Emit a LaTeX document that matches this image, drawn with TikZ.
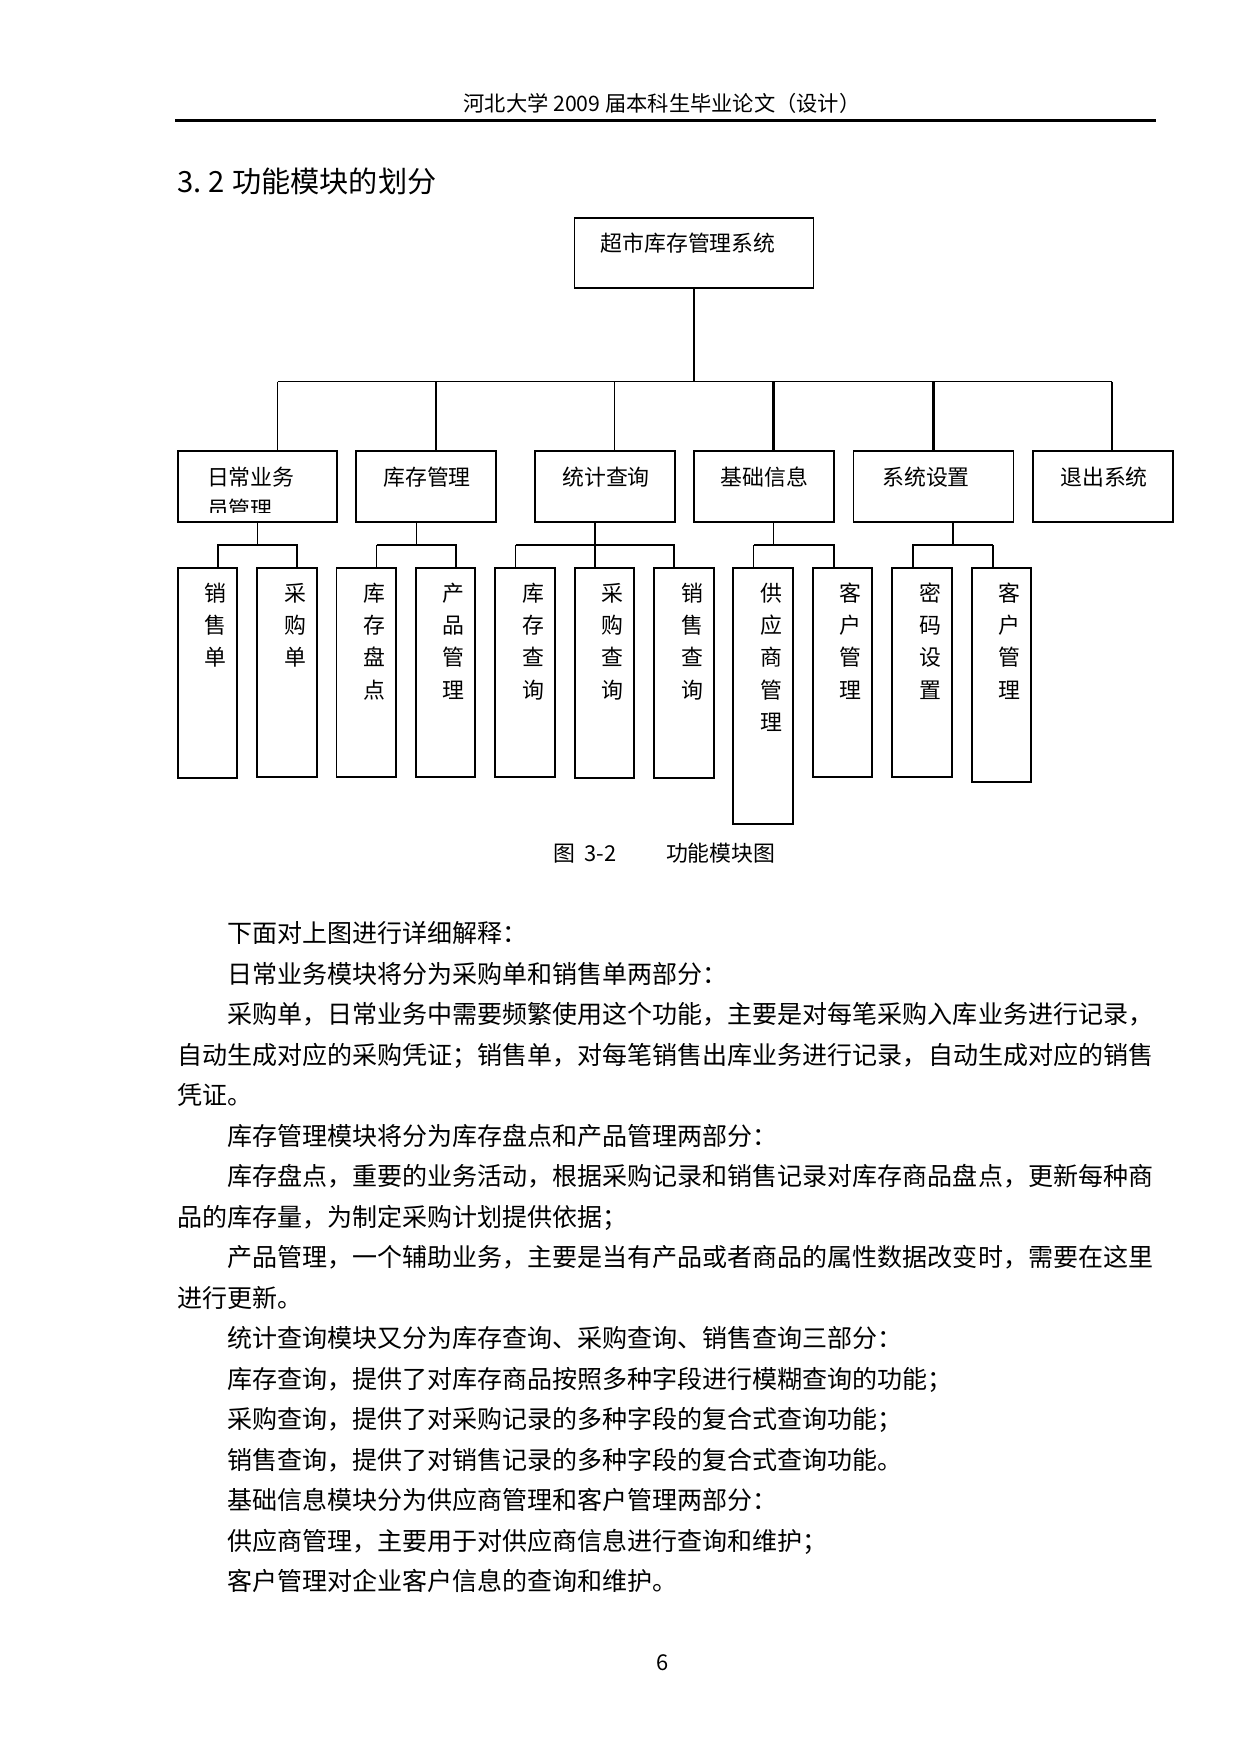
\documentclass[tikz,border=0pt]{standalone}
\usepackage{fontspec}
\setmainfont{Noto Sans CJK SC}
\def\pxu{0.47968pt}
\tikzset{
  t105/.style={inner sep=0pt, outer sep=0pt, font=\fontsize{10.5pt}{12pt}\selectfont, text height=9.24pt, text depth=1.26pt},
  thdr/.style={inner sep=0pt, outer sep=0pt, font=\fontsize{10.2pt}{12pt}\selectfont, text height=8.98pt, text depth=1.22pt},
  t12/.style={inner sep=0pt, outer sep=0pt, font=\fontsize{12pt}{14pt}\selectfont, text height=10.56pt, text depth=1.44pt},
  t14/.style={inner sep=0pt, outer sep=0pt, font=\fontsize{14pt}{17pt}\selectfont, text height=12.32pt, text depth=1.68pt},
  bodyline/.style={t12, anchor=west},
  boxshape/.style={draw, rectangle, inner sep=0pt, outer sep=0pt},
  lnthin/.style={line width=0.55pt},
  lnthick/.style={line width=1pt},
}
\newcommand\lbox[4]{\node[boxshape,#4,minimum width={59.6*\pxu},minimum height={(#3-568)*\pxu}] (#1) at ({#2+29.8},{(568+#3)/2}) {};}
\newcommand\vcol[3]{\foreach \c [count=\k from 0] in {#3} {\node[t105] (#1c\k) at ({#2+38},{592.7+\k*32.4}) {\c};}}
\begin{document}
\begin{tikzpicture}[x=\pxu,y=-\pxu]
\fill[white] (0,0) rectangle (1241,1755);
\useasboundingbox (0,0) rectangle (1241,1755);

% header
\node[thdr] (hdr) at (662,103) {河北大学 2009 届本科生毕业论文（设计）};
\coordinate (hl) at (175,120.5);
\coordinate (hr) at (1156,120.5);
\draw[line width=1.4pt] (hl) -- (hr);

% heading
\node[t14, anchor=west] (head) at (177,181) {3.\hspace{0.25em}2\hspace{0.25em}功能模块的划分};

% root
\node[boxshape,lnthin,minimum width={239*\pxu},minimum height={70*\pxu}] (root) at (694,253) {};
\node[t105] (roott) at (688,243.5) {超市库存管理系统};

% level 2 boxes
\node[boxshape,lnthick,minimum width={159.4*\pxu},minimum height={71*\pxu}] (L1) at (257.3,486.5) {};
\node[boxshape,lnthin,minimum width={140*\pxu},minimum height={71*\pxu}] (L2) at (426,486.5) {};
\node[boxshape,lnthick,minimum width={140*\pxu},minimum height={71*\pxu}] (L3) at (605,486.5) {};
\node[boxshape,lnthick,minimum width={140*\pxu},minimum height={71*\pxu}] (L4) at (764,486.5) {};
\node[boxshape,lnthin,minimum width={160*\pxu},minimum height={71*\pxu}] (L5) at (933.5,486.5) {};
\node[boxshape,lnthick,minimum width={140*\pxu},minimum height={71*\pxu}] (L6) at (1103,486.5) {};

\node[t105, anchor=west] (L1t) at (207,477) {日常业务};
\begin{scope}
  \clip (177,451) rectangle (337,512.5);
  \node[t105, anchor=west] (L1t2) at (207,509.5) {员管理};
\end{scope}
\node[t105] (L2t) at (427,477) {库存管理};
\node[t105] (L3t) at (606,477) {统计查询};
\node[t105] (L4t) at (764.5,477) {基础信息};
\node[t105] (L5t) at (926,477) {系统设置};
\node[t105] (L6t) at (1104,477) {退出系统};

% main bus
\coordinate (busL) at (277.5,381.5);
\coordinate (busR) at (1112,381.5);
\coordinate (d2) at (436,381.5);
\coordinate (d3) at (614.5,381.5);
\coordinate (d4) at (773.5,381.5);
\coordinate (d5) at (933.5,381.5);
\draw[lnthick] (root.south) -- (root.south |- busL);
\draw[lnthin] (busL) -- (busR);
\draw[lnthin] (busL) -- (busL |- L1.north);
\draw[lnthick] (d2) -- (d2 |- L2.north);
\draw[lnthin] (d3) -- (d3 |- L3.north);
\draw[lnthick] (d4) -- (d4 |- L4.north);
\draw[lnthick] (d5) -- (d5 |- L5.north);
\draw[lnthin] (busR) -- (busR |- L6.north);

% level 3 boxes
\lbox{B0}{177.6}{777.7}{lnthick}
\lbox{B1}{257.0}{777}{lnthick}
\lbox{B2}{336.4}{777}{lnthin}
\lbox{B3}{415.8}{777}{lnthick}
\lbox{B4}{495.2}{776.7}{lnthick}
\lbox{B5}{574.6}{777.7}{lnthick}
\lbox{B6}{654.0}{777.7}{lnthick}
\lbox{B7}{733.4}{824}{lnthick}
\lbox{B8}{812.8}{777}{lnthick}
\lbox{B9}{892.2}{777}{lnthick}
\lbox{B10}{971.6}{782}{lnthick}

\vcol{B0}{177.6}{销,售,单}
\vcol{B1}{257.0}{采,购,单}
\vcol{B2}{336.4}{库,存,盘,点}
\vcol{B3}{415.8}{产,品,管,理}
\vcol{B4}{495.2}{库,存,查,询}
\vcol{B5}{574.6}{采,购,查,询}
\vcol{B6}{654.0}{销,售,查,询}
\vcol{B7}{733.4}{供,应,商,管,理}
\vcol{B8}{812.8}{客,户,管,理}
\vcol{B9}{892.2}{密,码,设,置}
\vcol{B10}{971.6}{客,户,管,理}

% group 1: 日常业务
\coordinate (s1) at (257.5,545);
\coordinate (s1a) at (217.7,545);
\coordinate (s1b) at (297,545);
\draw[lnthin] (s1 |- L1.south) -- (s1);
\draw[lnthick] (s1a |- B0.north) -- (s1a) -- (s1b) -- (s1b |- B1.north);

% group 2: 库存管理
\coordinate (s2) at (416.5,545);
\coordinate (s2a) at (376.6,545);
\coordinate (s2b) at (456,545);
\draw[lnthin] (s2 |- L2.south) -- (s2);
\draw[lnthick] (s2a) -- (s2b) -- (s2b |- B3.north);
\draw[lnthin] (s2a) -- (s2a |- B2.north);

% group 3: 统计查询
\coordinate (s3) at (594.7,545);
\coordinate (s3a) at (515.5,545);
\coordinate (s3c) at (674.3,545);
\draw[lnthick] (s3 |- L3.south) -- (s3 |- B5.north);
\draw[lnthick] (s3a) -- (s3c) -- (s3c |- B6.north);
\draw[lnthin] (s3a) -- (s3a |- B4.north);

% group 4: 基础信息
\coordinate (s4) at (773.6,545);
\coordinate (s4a) at (753.8,545);
\coordinate (s4b) at (834.2,545);
\draw[lnthin] (s4 |- L4.south) -- (s4);
\draw[lnthick] (s4a) -- (s4b) -- (s4b |- B8.north);
\draw[lnthin] (s4a) -- (s4a |- B7.north);

% group 5: 系统设置
\coordinate (s5) at (953,545);
\coordinate (s5a) at (913.4,545);
\coordinate (s5b) at (993,545);
\draw[lnthick] (s5 |- L5.south) -- (s5);
\draw[lnthick] (s5a |- B9.north) -- (s5a) -- (s5b);
\draw[lnthin] (s5b) -- (s5b |- B10.north);

% caption
\node[t105, anchor=west] (cap1) at (553,853) {图\hspace{0.45em}3-2};
\node[t105, anchor=west] (cap2) at (666,853) {功能模块图};

% body text
\node[bodyline] (p1) at (227.5,933) {下面对上图进行详细解释：};
\node[bodyline] (p2) at (227.5,973.5) {日常业务模块将分为采购单和销售单两部分：};
\node[bodyline] (p3) at (227.5,1014) {采购单，日常业务中需要频繁使用这个功能，主要是对每笔采购入库业务进行记录，};
\node[bodyline] (p4) at (177.5,1054.5) {自动生成对应的采购凭证；销售单，对每笔销售出库业务进行记录，自动生成对应的销售};
\node[bodyline] (p5) at (177.5,1095) {凭证。};
\node[bodyline] (p6) at (227.5,1135.5) {库存管理模块将分为库存盘点和产品管理两部分：};
\node[bodyline] (p7) at (227.5,1176) {库存盘点，重要的业务活动，根据采购记录和销售记录对库存商品盘点，更新每种商};
\node[bodyline] (p8) at (177.5,1216.5) {品的库存量，为制定采购计划提供依据；};
\node[bodyline] (p9) at (227.5,1257) {产品管理，一个辅助业务，主要是当有产品或者商品的属性数据改变时，需要在这里};
\node[bodyline] (p10) at (177.5,1297.5) {进行更新。};
\node[bodyline] (p11) at (227.5,1338) {统计查询模块又分为库存查询、采购查询、销售查询三部分：};
\node[bodyline] (p12) at (227.5,1378.5) {库存查询，提供了对库存商品按照多种字段进行模糊查询的功能；};
\node[bodyline] (p13) at (227.5,1419) {采购查询，提供了对采购记录的多种字段的复合式查询功能；};
\node[bodyline] (p14) at (227.5,1459.5) {销售查询，提供了对销售记录的多种字段的复合式查询功能。};
\node[bodyline] (p15) at (227.5,1500) {基础信息模块分为供应商管理和客户管理两部分：};
\node[bodyline] (p16) at (227.5,1540.5) {供应商管理，主要用于对供应商信息进行查询和维护；};
\node[bodyline] (p17) at (227.5,1581) {客户管理对企业客户信息的查询和维护。};

% page number
\node[t105] (pg) at (663,1662) {6};
\end{tikzpicture}
\end{document}
